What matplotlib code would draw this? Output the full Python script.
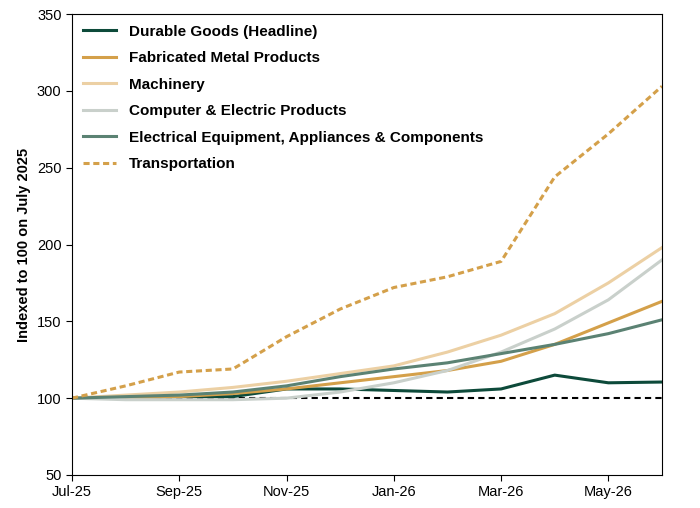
import matplotlib
matplotlib.use("Agg")
import matplotlib.pyplot as plt

plt.rcParams['font.family'] = ['Liberation Sans', 'DejaVu Sans']

months = ["Jul-25","Aug-25","Sep-25","Oct-25","Nov-25","Dec-25","Jan-26","Feb-26","Mar-26","Apr-26","May-26","Jun-26"]
durable = [100,100,101,101,106,106,105,104,106,115,110,110.5]
fabricated = [100,100,101,103,106,110,114,118,124,135,149,163]
machinery = [100,102,104,107,111,116,121,130,141,155,175,198]
computer = [100,99,99,99,100,104,110,118,130,145,164,190]
electrical = [100,101,102,104,108,114,119,123,129,135,142,151]
transport = [100,108,117,119,140,158,172,179,189,244,272,303]

fig = plt.figure(figsize=(7, 5.08), dpi=100)
ax = fig.add_axes([72/700, 33/508, 590/700, 461/508])
x = list(range(len(months)))
ax.axhline(100, color='black', ls='--', lw=1.5, dashes=(3, 2))
ax.plot(x, durable, color='#0d4a3a', lw=2.2, label='Durable Goods (Headline)')
ax.plot(x, fabricated, color='#d4a04a', lw=2.2, label='Fabricated Metal Products')
ax.plot(x, machinery, color='#ecd0a4', lw=2.2, label='Machinery')
ax.plot(x, computer, color='#c9d0cb', lw=2.2, label='Computer & Electric Products')
ax.plot(x, electrical, color='#5b8273', lw=2.2, label='Electrical Equipment, Appliances & Components')
ax.plot(x, transport, color='#d4a04a', lw=2.2, ls=(0, (2, 1.2)), label='Transportation')

ax.set_xlim(0, 11)
ax.set_ylim(50, 350)
ax.set_yticks(range(50, 351, 50))
ax.set_xticks(x[::2])
ax.set_xticklabels(months[::2])
ax.tick_params(labelsize=10.5, length=4)
ax.set_ylabel('Indexed to 100 on July 2025', fontsize=10.5, fontweight='bold')
leg = ax.legend(loc='upper left', frameon=False, prop={'weight': 'bold', 'size': 11},
                handlelength=2.2, borderaxespad=0.3, labelspacing=0.82)
fig.savefig('out.png', dpi=100)
